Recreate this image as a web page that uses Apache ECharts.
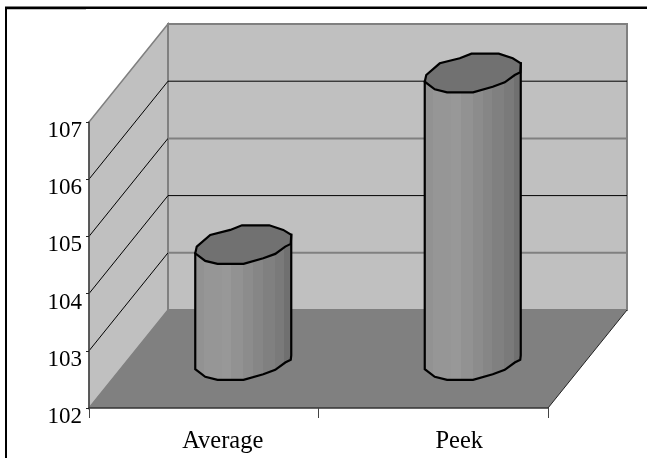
<!DOCTYPE html>
<html>
<head>
<meta charset="utf-8">
<style>
  html, body { margin: 0; padding: 0; background: #fff; }
  #chart { width: 647px; height: 458px; }
</style>
<script src="https://cdn.jsdelivr.net/npm/echarts@6/dist/echarts.min.js"></script>
</head>
<body>
<div id="chart"></div>
<script>
const categories = ["Average", "Peek"];
const values = [104, 107];
const yTicks = [103, 104, 105, 106];
const yMin = 102;
const yMax = 107;

// 3d look: how far the back wall sits from the front plane
const depthX = 79;
const depthY = -98;
const baseDrop = 1.5;
const serif = "Liberation Serif";
const wallColor = "#c0c0c0";
const floorColor = "#808080";
const gridColors = { 103: "#808080", 104: "#000", 105: "#808080", 106: "#000" };
const gridWidths = { 103: 2, 104: 1, 105: 2, 106: 1 };

// outline of the cylinder cap, relative to its centre
const capShape = [
  [-48, 8.7], [-46.5, 2], [-33, -9.7], [-13, -14.7], [-1.3, -19.3], [26, -19.3], [40, -14.7],
  [48, -9.7], [47.5, -0.7], [42, 2], [32, 9.3], [20, 13.7], [0.3, 19.3], [-25.7, 19.3], [-38, 16.3],
];
const stripes = [
  [0, "#929292"], [0.1, "#969696"], [0.28, "#989898"], [0.38, "#929292"], [0.5, "#8c8c8c"],
  [0.6, "#868686"], [0.7, "#808080"], [0.82, "#7a7a7a"], [0.92, "#707070"], [1, "#6c6c6c"],
];

function stripeFill() {
  const stops = [];
  stripes.forEach((s, i) => {
    stops.push({ offset: s[0], color: s[1] });
    if (i < stripes.length - 1) stops.push({ offset: stripes[i + 1][0], color: s[1] });
  });
  return new echarts.graphic.LinearGradient(0, 0, 1, 0, stops);
}

function renderWalls(params, api) {
  const cs = params.coordSys;
  const x0 = cs.x, x1 = cs.x + cs.width;
  const y0 = cs.y + cs.height, y1 = cs.y;
  return {
    type: "group",
    children: [
      {
        type: "polygon",
        shape: { points: [[x0, y0], [x0 + depthX, y0 + depthY], [x0 + depthX, y1 + depthY], [x0, y1]] },
        style: { fill: wallColor, stroke: "#808080", lineWidth: 1.5 },
      },
      {
        type: "polygon",
        shape: { points: [[x0 + depthX, y0 + depthY], [x1 + depthX, y0 + depthY], [x1 + depthX, y1 + depthY], [x0 + depthX, y1 + depthY]] },
        style: { fill: wallColor, stroke: "#808080", lineWidth: 2 },
      },
      {
        type: "polygon",
        shape: { points: [[x0, y0], [x1, y0], [x1 + depthX, y0 + depthY], [x0 + depthX, y0 + depthY]] },
        style: { fill: floorColor },
      },
      {
        type: "line",
        shape: { x1: x1, y1: y0, x2: x1 + depthX, y2: y0 + depthY },
        style: { stroke: "#222", lineWidth: 1 },
      },
    ],
  };
}

function renderGrid(params, api) {
  const cs = params.coordSys;
  const tick = api.value(1);
  const y = api.coord([0, tick])[1];
  const xb = cs.x + depthX;
  return {
    type: "group",
    children: [
      {
        type: "line",
        shape: { x1: cs.x, y1: y, x2: xb, y2: y + depthY },
        style: { stroke: "#000", lineWidth: 1 },
      },
      {
        type: "line",
        shape: { x1: xb, y1: y + depthY, x2: xb + cs.width, y2: y + depthY },
        style: { stroke: gridColors[tick], lineWidth: gridWidths[tick] },
      },
    ],
  };
}

function renderCylinder(params, api) {
  const top = api.coord([api.value(0), api.value(1)]);
  const base = api.coord([api.value(0), yMin]);
  const cx = top[0] + depthX / 2;
  const topY = top[1] + depthY / 2;
  const baseY = base[1] + depthY / 2 + baseDrop;
  const capPts = capShape.map((p) => [cx + p[0], topY + p[1]]);
  // front of the body: lower half of the cap at the bottom, going back up on the sides
  const lower = [0, 14, 13, 12, 11, 10, 9, 8].map((i) => [cx + capShape[i][0], baseY + capShape[i][1]]);
  const body = [capPts[0]].concat(lower, [[cx + capShape[7][0], baseY - 5], capPts[7]]);
  return {
    type: "group",
    children: [
      {
        type: "polygon",
        shape: { points: body },
        style: { fill: stripeFill(), stroke: "#000", lineWidth: 2.2 },
      },
      {
        type: "polygon",
        shape: { points: capPts },
        style: { fill: "#717171", stroke: "#000", lineWidth: 2.2 },
      },
    ],
  };
}

const chart = echarts.init(document.getElementById("chart"), null, { renderer: "canvas" });
chart.setOption({
  animation: false,
  backgroundColor: "#fff",
  grid: { left: 89, right: 99, top: 122, bottom: 50 },
  xAxis: {
    type: "category",
    data: categories,
    z: 5,
    axisLine: { lineStyle: { color: "#333", width: 1.5 } },
    axisTick: { show: true, length: 10, lineStyle: { color: "#444", width: 1 } },
    axisLabel: {
      margin: 21,
      interval: 0,
      color: "#000",
      // labels sit to the right of the band centres in the original
      formatter: (value, idx) => `{c${idx}|${value}}`,
      rich: {
        c0: { fontFamily: serif, fontSize: 24.5, color: "#000", padding: [0, 0, 0, 38] },
        c1: { fontFamily: serif, fontSize: 24.5, color: "#000", padding: [0, 0, 0, 52] },
      },
    },
  },
  yAxis: {
    type: "value",
    min: yMin,
    max: yMax,
    interval: 1,
    z: 5,
    splitLine: { show: false },
    axisLine: { show: true, lineStyle: { color: "#444", width: 1.5 } },
    axisTick: { show: true, length: 3, lineStyle: { color: "#222", width: 1 } },
    axisLabel: {
      margin: 7,
      color: "#000",
      // labels hang a little below their ticks in the original
      formatter: (value) => `{v|${value}}`,
      rich: {
        v: { fontFamily: serif, fontSize: 23, color: "#000", padding: [18, 0, 0, 0] },
      },
    },
  },
  graphic: [
    { type: "rect", shape: { x: 5, y: 6, width: 642, height: 1 }, style: { fill: "#808080" } },
    { type: "rect", shape: { x: 5, y: 7, width: 642, height: 2 }, style: { fill: "#000" } },
    { type: "rect", shape: { x: 5, y: 7, width: 2, height: 451 }, style: { fill: "#000" } },
    { type: "rect", shape: { x: 7, y: 9, width: 79, height: 1 }, style: { fill: "#c0c0c0" } },
  ],
  series: [
    {
      type: "custom",
      name: "walls",
      clip: false,
      z: 1,
      silent: true,
      renderItem: renderWalls,
      encode: { x: 0, y: 1 },
      data: [[0, yMin]],
    },
    {
      type: "custom",
      name: "grid",
      clip: false,
      z: 2,
      silent: true,
      renderItem: renderGrid,
      encode: { x: 0, y: 1 },
      data: yTicks.map((t) => [0, t]),
    },
    {
      type: "custom",
      name: "bars",
      clip: false,
      z: 3,
      renderItem: renderCylinder,
      encode: { x: 0, y: 1 },
      data: values.map((v, i) => [i, v]),
    },
  ],
});
</script>
</body>
</html>
